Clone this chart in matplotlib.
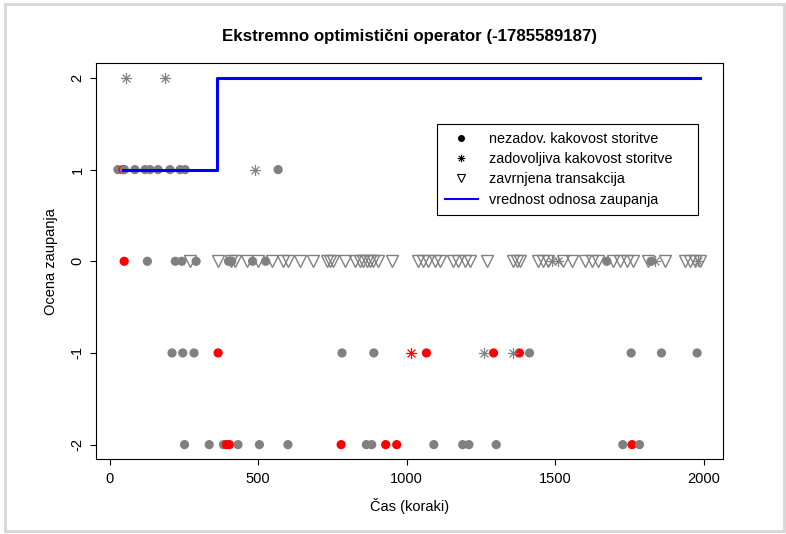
import numpy as np
import matplotlib
matplotlib.use("Agg")
import matplotlib.pyplot as plt
from matplotlib.path import Path
from matplotlib.lines import Line2D
from matplotlib.patches import Rectangle

plt.rcParams['font.family'] = ['Liberation Sans', 'DejaVu Sans']

# grey dots (nezadovoljiva kakovost storitve)
grey_dot_t = [28, 50, 85, 119, 136, 163, 203, 237, 254, 567,
              127, 221, 243, 291, 400, 411, 481, 525, 1673, 1822,
              210, 246, 284, 782, 889, 1413, 1755, 1857, 1977,
              252, 335, 383, 432, 504, 600, 864, 882, 1091, 1188, 1209, 1301, 1727, 1783]
grey_dot_v = [1] * 10 + [0] * 10 + [-1] * 9 + [-2] * 14

# red dots
red_dot_t = [45, 49, 365, 1066, 1292, 1379, 393, 403, 779, 929, 966, 1758]
red_dot_v = [1, 0, -1, -1, -1, -1, -2, -2, -2, -2, -2, -2]

# asterisks (zadovoljiva kakovost storitve)
grey_star_t = [55, 186, 489, 1490, 1508, 1835, 1981, 1261, 1358]
grey_star_v = [2, 2, 1, 0, 0, 0, 0, -1, -1]
red_star_t = [1015]
red_star_v = [-1]

# zavrnjena transakcija (all at 0)
tri_t = [271, 365, 408, 422, 461, 500, 545, 585, 601, 641, 685, 730, 742, 753,
         792, 826, 842, 854, 865, 876, 887, 904, 949, 1039, 1056, 1072, 1095,
         1112, 1157, 1173, 1196, 1213, 1269, 1358, 1370, 1381, 1443, 1459, 1476,
         1527, 1555, 1600, 1622, 1644, 1695, 1717, 1740, 1762, 1813, 1869, 1936,
         1953, 1970, 1985]

# trust value (step line)
trust_t = [45, 362, 1987]
trust_v = [1, 2, 2]

GREY = '#808080'

# asterisk marker like R pch=8
c = np.cos(np.pi / 4)
ast = Path([(-1, 0), (1, 0), (0, -1), (0, 1), (-c, -c), (c, c), (-c, c), (c, -c)],
           [Path.MOVETO, Path.LINETO] * 4)

fig = plt.figure(figsize=(7.86, 5.34), dpi=100)
ax = fig.add_axes([0.1218, 0.1399, 0.7984, 0.7416])

ax.plot(tri_t, [0] * len(tri_t), linestyle='none', marker='v', ms=8.5,
        mfc='none', mec=GREY, mew=1.0)

# dots drawn in time order so overlaps look like the original
dt = np.array(red_dot_t + grey_dot_t)
dv = np.array(red_dot_v + grey_dot_v)
dc = np.array(['red'] * len(red_dot_t) + [GREY] * len(grey_dot_t))
order = np.argsort(dt, kind='stable')
ax.scatter(dt[order], dv[order], s=44, c=dc[order], linewidths=0, zorder=3)

ax.plot(grey_star_t, grey_star_v, linestyle='none', marker=ast, ms=8,
        mfc='none', mec=GREY, mew=0.9, zorder=4)
ax.plot(red_star_t, red_star_v, linestyle='none', marker=ast, ms=8,
        mfc='none', mec='red', mew=0.9, zorder=4)

ax.plot(trust_t, trust_v, drawstyle='steps-post', color='blue', lw=2.2, zorder=5)

ax.set_xlim(-46.8, 2065)
ax.set_ylim(-2.16, 2.16)
ax.set_xticks([0, 500, 1000, 1500, 2000])
ax.set_yticks([-2, -1, 0, 1, 2])
ax.set_yticklabels(['-2', '-1', '0', '1', '2'], rotation=90, va='center')
ax.tick_params(length=4, width=0.8, labelsize=10.5, pad=5)
ax.tick_params(axis='y', pad=4)
for s in ax.spines.values():
    s.set_linewidth(0.8)

ax.set_xlabel('Čas (koraki)', fontsize=10.5, labelpad=9)
ax.set_ylabel('Ocena zaupanja', fontsize=10.5, labelpad=9)
ax.set_title('Ekstremno optimistični operator (-1785589187)', fontsize=12.2,
             fontweight='bold', pad=16)

handles = [
    Line2D([], [], linestyle='none', marker='o', ms=4, color='black'),
    Line2D([], [], linestyle='none', marker=ast, ms=5.5, mfc='none', mec='black', mew=0.8),
    Line2D([], [], linestyle='none', marker='v', ms=5.5, mfc='none', mec='black', mew=0.8),
    Line2D([], [], color='blue', lw=1.5),
]
labels = ['nezadov. kakovost storitve', 'zadovoljiva kakovost storitve',
          'zavrnjena transakcija', 'vrednost odnosa zaupanja']
leg = ax.legend(handles, labels, loc='upper left',
                bbox_to_anchor=(0.5556, 0.599, 0.3328, 0.168), mode='expand',
                bbox_transform=fig.transFigure, borderaxespad=0, fontsize=10.4,
                fancybox=False, framealpha=1, edgecolor='black',
                handlelength=2.3, handletextpad=0.75, labelspacing=0.42,
                borderpad=0.55)
leg.get_frame().set_linewidth(0.8)

fig.patches.append(Rectangle((5 / 786, 3 / 534), 779 / 786, 527 / 534,
                             transform=fig.transFigure, fill=False,
                             edgecolor='#d8d8d8', lw=2.2))

fig.savefig('out.png', dpi=100)
